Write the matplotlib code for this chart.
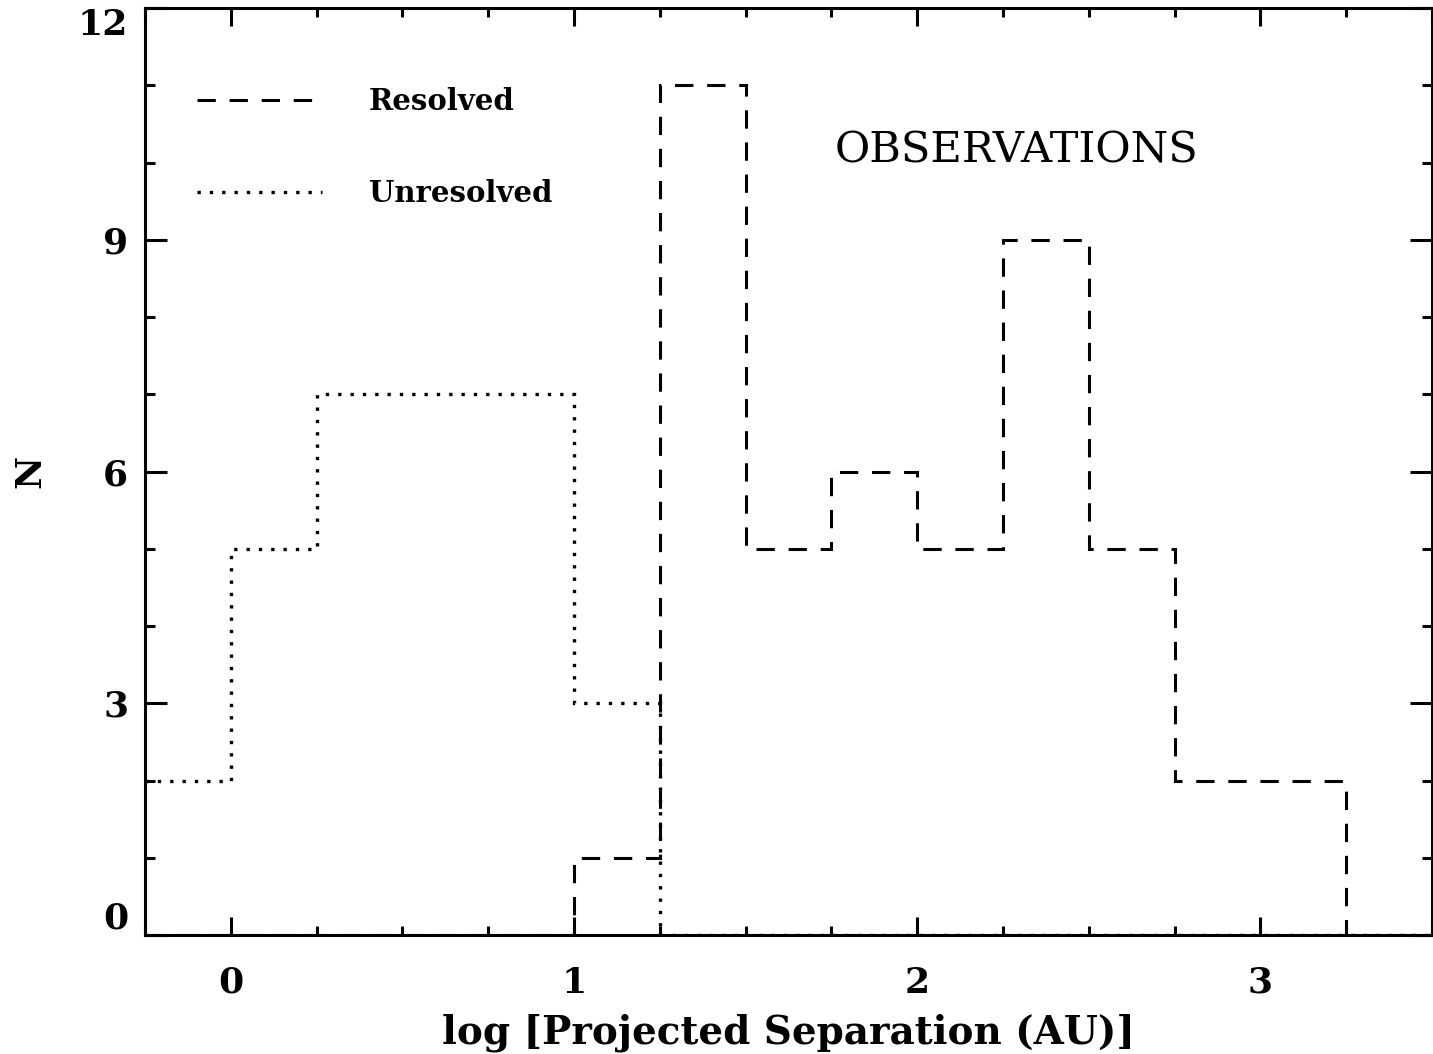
import matplotlib
matplotlib.use("Agg")
import matplotlib.pyplot as plt
import numpy as np
from matplotlib.ticker import MultipleLocator

# log(separation / AU) histogram, bins of 0.25 dex
bin_edges = [-0.25, 0.0, 0.25, 0.5, 0.75, 1.0, 1.25, 1.5, 1.75, 2.0,
             2.25, 2.5, 2.75, 3.0, 3.25, 3.5]
resolved = [0, 0, 0, 0, 0, 1, 11, 5, 6, 5, 9, 5, 2, 2, 0]
unresolved = [2, 5, 7, 7, 7, 3, 0, 0, 0, 0, 0, 0, 0, 0, 0]

x_ticks = [0, 1, 2, 3]
y_ticks = [0, 3, 6, 9, 12]

SERIF = ["DejaVu Serif"]

fig = plt.figure(figsize=(14.33, 10.54), dpi=100)
ax = fig.add_axes([0.1012, 0.1129, 0.8981, 0.8795])

edges = np.array(bin_edges)
ax.stairs(resolved, edges, baseline=None, color="black", linewidth=2.2,
          linestyle=(0, (6, 4.5)), label="Resolved")
ax.stairs(unresolved, edges, baseline=None, color="black", linewidth=2.4,
          linestyle=(0, (1, 2.7)), label="Unresolved")

ax.set_xlim(-0.25, 3.5)
ax.set_ylim(0, 12)

ax.xaxis.set_major_locator(plt.FixedLocator(x_ticks))
ax.yaxis.set_major_locator(plt.FixedLocator(y_ticks))
ax.xaxis.set_minor_locator(MultipleLocator(0.25))
ax.yaxis.set_minor_locator(MultipleLocator(1))
ax.set_xticklabels([str(t) for t in x_ticks], family=SERIF, fontweight="bold", fontsize=26)
ylabels = ax.set_yticklabels([str(t) for t in y_ticks], family=SERIF, fontweight="bold", fontsize=26)
# keep the end labels inside the frame
ylabels[0].set_va("bottom")
ylabels[-1].set_va("top")

ax.tick_params(which="both", direction="in", top=True, right=True, width=2.2, color="black")
ax.tick_params(axis="x", which="major", length=13, pad=22)
ax.tick_params(axis="x", which="minor", length=6.5)
ax.tick_params(axis="y", which="major", length=16, pad=12)
ax.tick_params(axis="y", which="minor", length=7)

for spine in ax.spines.values():
    spine.set_linewidth(2.2)
    spine.set_zorder(5)

ax.set_xlabel("log [Projected Separation (AU)]", family=SERIF, fontweight="bold",
              fontsize=28, labelpad=10)
ax.set_ylabel("N", family=SERIF, fontweight="bold", fontsize=26, labelpad=22)

ax.text(0.536, 0.846, "OBSERVATIONS", transform=ax.transAxes, family=SERIF,
        fontsize=31, ha="left", va="center")

leg = ax.legend(loc="upper left", bbox_to_anchor=(0.02, 0.943), frameon=False,
                handlelength=4.3, handletextpad=1.6, labelspacing=2.15,
                prop={"family": SERIF, "weight": "bold", "size": 21})

fig.savefig("out.png", dpi=100)
